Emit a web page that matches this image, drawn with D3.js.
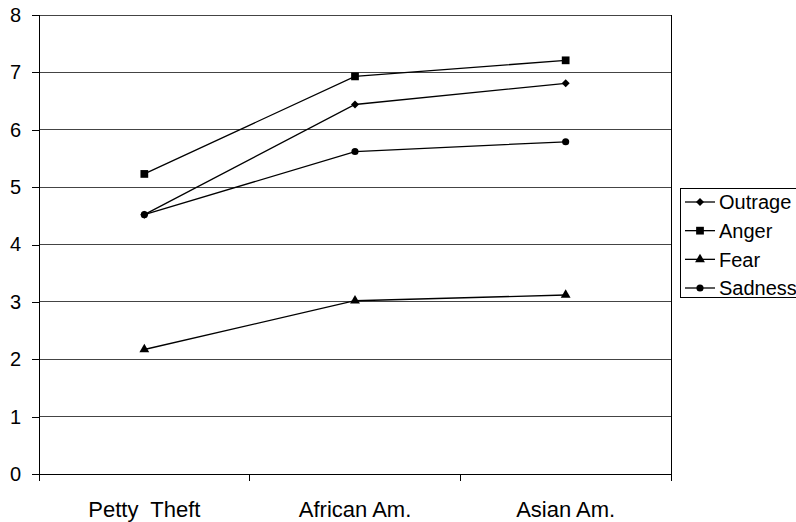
<!DOCTYPE html>
<html><head><meta charset="utf-8">
<script src="https://cdn.jsdelivr.net/npm/d3@7"></script>
<style>body{margin:0;background:#fff}svg text{font-family:"Liberation Sans",Arial,sans-serif;fill:#000}</style>
</head><body><svg id="c" width="796" height="522"></svg>
<script>
const categories = ["Petty  Theft", "African Am.", "Asian Am."];
const seriesNames = ["Outrage", "Anger", "Fear", "Sadness"];
const outrage = [4.52, 6.44, 6.81];
const anger = [5.23, 6.93, 7.21];
const fear = [2.17, 3.02, 3.12];
const sadness = [4.52, 5.62, 5.79];
const yTicks = [0,1,2,3,4,5,6,7,8];
const series = [
  {name: seriesNames[0], values: outrage, sym: d3.symbolSquare, size: 32, rot: 45},
  {name: seriesNames[1], values: anger, sym: d3.symbolSquare, size: 60, rot: 0},
  {name: seriesNames[2], values: fear, sym: d3.symbolTriangle, size: 42, rot: 0},
  {name: seriesNames[3], values: sadness, sym: d3.symbolCircle, size: 40, rot: 0}
];
const svg = d3.select("#c");
const L = 39, R = 671, T = 15, B = 474;
const x = d3.scaleBand().domain(categories).range([L, R]);
const y = d3.scaleLinear().domain([0, 8]).range([B, T]);

// gridlines
svg.append("g").selectAll("line").data(yTicks.filter(d => d > 0)).join("line")
  .attr("x1", L).attr("x2", R).attr("y1", d => y(d)).attr("y2", d => y(d))
  .attr("stroke", "#444").attr("stroke-width", 1).attr("shape-rendering","crispEdges");
// right frame
svg.append("line").attr("x1", R).attr("x2", R).attr("y1", T).attr("y2", B)
  .attr("stroke", "#000").attr("shape-rendering","crispEdges");

// y axis
const ya = svg.append("g").attr("transform", `translate(${L},0)`)
  .call(d3.axisLeft(y).tickValues(yTicks).tickSize(7).tickPadding(11).tickFormat(d3.format("d")));
ya.select(".domain").attr("stroke", "#000").attr("shape-rendering","crispEdges");
ya.selectAll(".tick line").attr("stroke", "#000").attr("shape-rendering","crispEdges");
ya.selectAll("text").attr("font-size", 20).attr("font-family", "Liberation Sans, Arial, sans-serif").attr("fill","#000");

// x axis
const xa = svg.append("g").attr("transform", `translate(0,${B})`)
  .call(d3.axisBottom(x).tickSize(0).tickPadding(27));
xa.select(".domain").attr("stroke", "#000").attr("shape-rendering","crispEdges");
xa.selectAll("text").attr("font-size", 22).attr("font-family", "Liberation Sans, Arial, sans-serif").attr("fill","#000").style("white-space","pre");
const bounds = [L].concat(categories.map(c => x(c) + x.bandwidth()));
svg.append("g").selectAll("line").data(bounds).join("line")
  .attr("x1", d => d).attr("x2", d => d).attr("y1", B).attr("y2", B + 7)
  .attr("stroke", "#000").attr("shape-rendering","crispEdges");

// series
const line = d3.line().x((d, i) => x(categories[i]) + x.bandwidth() / 2).y(d => y(d));
series.forEach(s => {
  svg.append("path").datum(s.values).attr("d", line).attr("fill", "none")
    .attr("stroke", "#000").attr("stroke-width", 1.3);
  svg.append("g").selectAll("path").data(s.values).join("path")
    .attr("d", d3.symbol().type(s.sym).size(s.size))
    .attr("transform", (d, i) => `translate(${x(categories[i]) + x.bandwidth() / 2},${y(d)}) rotate(${s.rot})`)
    .attr("fill", "#000");
});

// legend
const lg = svg.append("g");
lg.append("rect").attr("x", 680.5).attr("y", 188.5).attr("width", 130).attr("height", 109)
  .attr("fill", "#fff").attr("stroke", "#000");
const ly = d3.scalePoint().domain(seriesNames).range([202, 288]);
series.forEach(s => {
  const yy = ly(s.name);
  lg.append("line").attr("x1", 685).attr("x2", 715).attr("y1", yy).attr("y2", yy).attr("stroke", "#000").attr("stroke-width", 1.3);
  lg.append("path").attr("d", d3.symbol().type(s.sym).size(s.size)).attr("transform", `translate(700,${yy}) rotate(${s.rot})`).attr("fill", "#000");
  lg.append("text").attr("x", 719).attr("y", yy).attr("dy", "0.36em").attr("font-size", 20).text(s.name);
});
</script></body></html>
